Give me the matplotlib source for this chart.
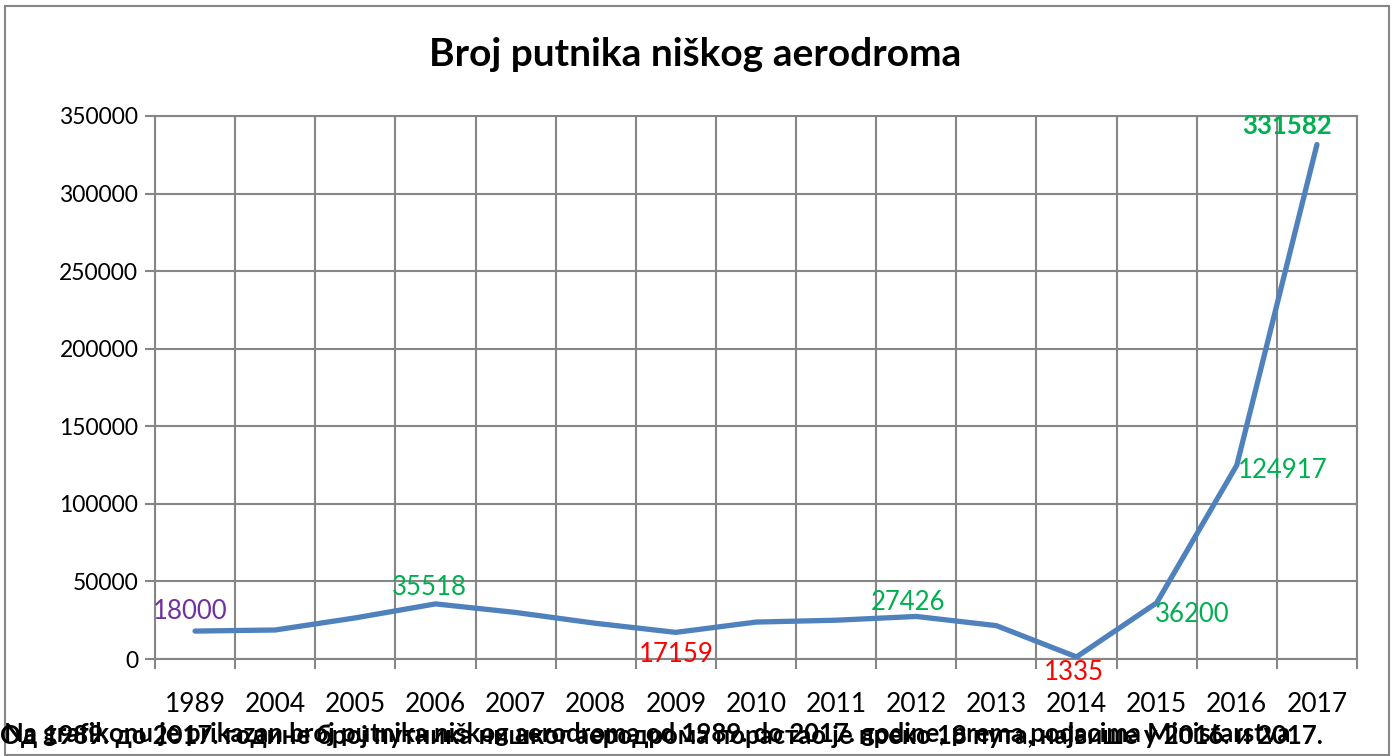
from matplotlib import pyplot as plt
from matplotlib.patches import Rectangle
import numpy as np

godine = ['1989', '2004', '2005', '2006', '2007', '2008', '2009', '2010',
          '2011', '2012', '2013', '2014', '2015', '2016', '2017']
putnici = [18000, 18700, 26500, 35518, 30000, 23000, 17159, 23800,
           25000, 27426, 21500, 1335, 36200, 124917, 331582]

# oznake: indeks, tekst, boja, pomak (px)
oznake_idx = [0, 3, 6, 9, 11, 12, 13, 14]
oznake_boja = ['#7030A0', '#00B050', '#FF0000', '#00B050', '#FF0000',
               '#00B050', '#00B050', '#00B050']
oznake_pomak = [(-5, 20), (-6, 16), (0, -22), (-8, 14), (-3, -16),
                (36, -12), (46, -5), (-30, 19)]

plt.rcParams['font.family'] = ['Lato', 'DejaVu Sans']

fig = plt.figure(figsize=(13.98, 7.56), dpi=100)
ax = fig.add_axes([155 / 1398, 1 - 659 / 756, 1202 / 1398, 543 / 756])

x = np.arange(len(godine))
ax.plot(x, putnici, color='#4F81BD', linewidth=3.8, solid_joinstyle='round',
        solid_capstyle='round', zorder=3)

for i, boja, (dx, dy) in zip(oznake_idx, oznake_boja, oznake_pomak):
    w = 'bold' if i == 14 else 'normal'
    ax.annotate(str(putnici[i]), (x[i], putnici[i]), xytext=(dx * 0.72, dy * 0.72),
                textcoords='offset points', ha='center', va='center',
                color=boja, fontsize=18.5, fontweight=w, zorder=4)

ax.set_xlim(-0.5, len(godine) - 0.5)
ax.set_ylim(0, 350000)
ax.set_yticks(np.arange(0, 350001, 50000))
ax.set_yticklabels([str(v) for v in range(0, 350001, 50000)], fontsize=16.5)
ax.set_xticks(x)
ax.set_xticklabels(godine, fontsize=19)
ax.set_xticks(np.arange(-0.5, len(godine), 1), minor=True)
ax.tick_params(axis='x', which='major', length=0, pad=24)
ax.tick_params(axis='x', which='minor', length=7, color='#868686', width=1.5)
ax.tick_params(axis='y', length=7, color='#868686', width=1.5, pad=5)
ax.grid(which='minor', axis='x', color='#868686', linewidth=1.5)
ax.grid(which='major', axis='y', color='#868686', linewidth=1.5)
for s in ax.spines.values():
    s.set_color('#868686')
    s.set_linewidth(1.5)

fig.text(695 / 1398, 1 - 55 / 756, 'Broj putnika niškog aerodroma',
         ha='center', va='center', fontsize=28, fontweight='bold')

fig.patches.append(Rectangle((5 / 1398, 1 - 755 / 756), 1384 / 1398, 749 / 756,
                             transform=fig.transFigure, fill=False,
                             edgecolor='#868686', linewidth=1.5))

# preklopljeni tekst ispod grafikona
fig.text(0.0, 1 - 736 / 756,
         'Од 1989. до 2017. године број путника нишког аеродрома порастао је преко 18 пута, највише у 2016. и 2017.',
         ha='left', va='center', fontsize=18.5, fontweight='bold', color='black')
fig.text(0.003, 1 - 734 / 756,
         'Na grafikonu je prikazan broj putnika niškog aerodroma od 1989. do 2017. godine, prema podacima Ministarstva',
         ha='left', va='center', fontsize=18.5, fontweight='bold', color='black')

plt.savefig('out.png', dpi=100)
